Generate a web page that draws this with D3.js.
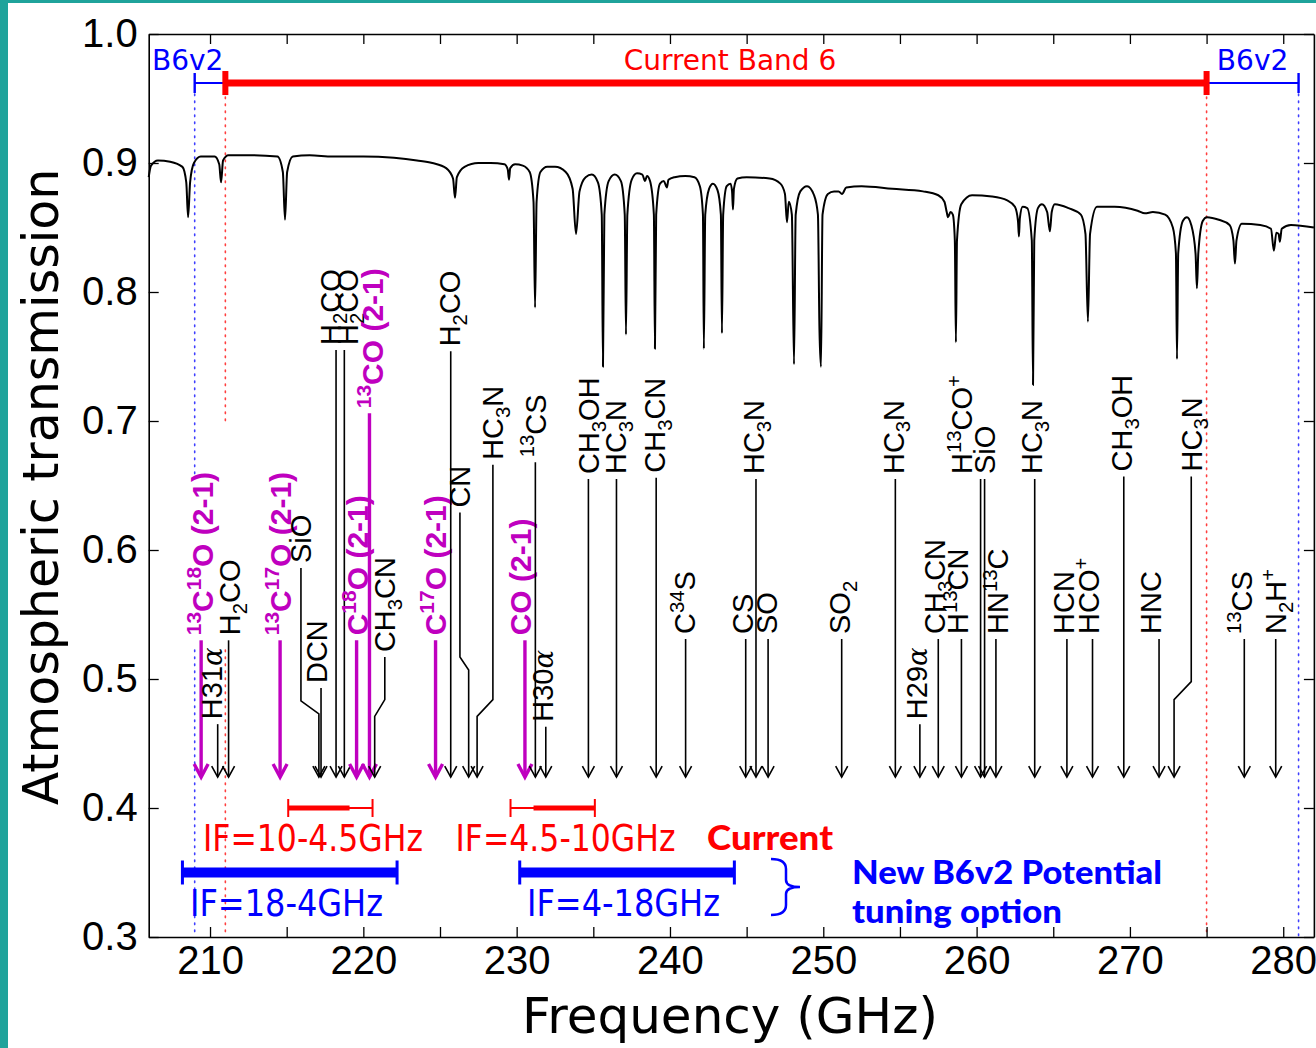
<!DOCTYPE html>
<html>
<head>
<meta charset="utf-8">
<script src="https://cdn.jsdelivr.net/npm/d3@7"></script>
<style>
  html, body { margin: 0; padding: 0; background: #fff; }
  svg { display: block; }
</style>
</head>
<body>
<svg id="chart" width="1316" height="1048"></svg>
<script>
// ---------- axes ----------
const freqDomain = [206, 282];
const transDomain = [0.3, 1.0];
const xTickMarks = [210, 215, 220, 225, 230, 235, 240, 245, 250, 255, 260, 265, 270, 275, 280];
const xTickLabels = [210, 220, 230, 240, 250, 260, 270, 280];
const yTickLabels = [0.3, 0.4, 0.5, 0.6, 0.7, 0.8, 0.9, 1.0];

// ---------- atmospheric transmission model (GHz, transmission) ----------
const transmission = [
  [206.0, 0.889], [206.15, 0.898], [206.6, 0.902], [207.4, 0.901], [208.2, 0.897],
  [208.45, 0.885], [208.57, 0.858], [208.7, 0.885], [208.95, 0.900], [209.4, 0.905],
  [210.3, 0.905], [210.6, 0.899], [210.72, 0.885], [210.85, 0.902], [211.2, 0.906],
  [212.5, 0.906], [214.4, 0.905], [214.75, 0.893], [214.89, 0.856], [215.03, 0.893],
  [215.4, 0.905], [216.5, 0.906], [218.0, 0.905], [220.0, 0.905], [222.0, 0.904],
  [223.5, 0.902], [224.5, 0.900], [225.4, 0.896], [225.85, 0.888], [225.98, 0.873],
  [226.1, 0.889], [226.6, 0.897], [227.5, 0.900], [228.3, 0.900], [229.2, 0.899],
  [229.42, 0.895], [229.5, 0.887], [229.58, 0.896], [229.9, 0.899], [230.4, 0.898],
  [230.85, 0.893], [231.1, 0.870], [231.2, 0.788], [231.3, 0.870], [231.55, 0.893],
  [232.0, 0.897], [232.5, 0.897], [233.2, 0.893], [233.65, 0.880], [233.87, 0.845],
  [234.1, 0.878], [234.5, 0.889], [234.9, 0.891], [235.3, 0.885], [235.55, 0.860],
  [235.63, 0.742], [235.72, 0.860], [236.0, 0.886], [236.4, 0.891], [236.8, 0.886],
  [237.05, 0.860], [237.13, 0.767], [237.22, 0.860], [237.5, 0.887], [237.85, 0.892],
  [238.2, 0.891], [238.37, 0.886], [238.5, 0.890], [238.7, 0.886], [238.95, 0.860],
  [239.02, 0.756], [239.1, 0.860], [239.35, 0.884], [239.6, 0.886], [239.75, 0.882],
  [239.8, 0.881], [239.9, 0.887], [240.3, 0.889], [241.0, 0.890], [241.6, 0.889],
  [241.95, 0.882], [242.15, 0.860], [242.21, 0.756], [242.3, 0.860], [242.55, 0.880],
  [242.8, 0.884], [243.1, 0.879], [243.32, 0.860], [243.39, 0.768], [243.47, 0.860],
  [243.7, 0.882], [243.95, 0.884], [244.05, 0.878], [244.11, 0.864], [244.17, 0.880],
  [244.4, 0.888], [245.0, 0.889], [246.5, 0.888], [247.2, 0.884], [247.5, 0.876],
  [247.63, 0.854], [247.75, 0.870], [247.95, 0.860], [248.09, 0.744], [248.2, 0.860],
  [248.5, 0.878], [248.94, 0.882], [249.4, 0.875], [249.65, 0.860], [249.75, 0.771],
  [249.85, 0.742], [249.95, 0.860], [250.3, 0.876], [250.7, 0.878], [251.0, 0.878],
  [251.22, 0.876], [251.5, 0.881], [252.5, 0.882], [254.5, 0.880], [256.5, 0.878],
  [257.5, 0.875], [257.9, 0.870], [258.05, 0.862], [258.13, 0.858], [258.3, 0.862],
  [258.45, 0.860], [258.58, 0.840], [258.65, 0.761], [258.72, 0.840], [259.0, 0.868],
  [259.7, 0.875], [261.0, 0.874], [262.0, 0.871], [262.5, 0.866], [262.7, 0.855],
  [262.76, 0.843], [262.82, 0.857], [263.0, 0.866], [263.3, 0.865], [263.6, 0.840],
  [263.68, 0.728], [263.76, 0.840], [264.0, 0.865], [264.26, 0.868], [264.6, 0.862],
  [264.78, 0.847], [264.9, 0.862], [265.1, 0.868], [266.0, 0.865], [266.8, 0.860],
  [267.1, 0.845], [267.26, 0.777], [267.4, 0.845], [267.85, 0.866], [269.0, 0.866],
  [270.5, 0.863], [270.98, 0.861], [271.5, 0.862], [272.3, 0.860], [272.8, 0.850],
  [273.0, 0.830], [273.07, 0.748], [273.15, 0.830], [273.45, 0.855], [273.72, 0.858],
  [274.0, 0.852], [274.28, 0.830], [274.37, 0.803], [274.46, 0.830], [274.75, 0.855],
  [275.02, 0.858], [275.8, 0.856], [276.5, 0.852], [276.75, 0.840], [276.85, 0.822],
  [276.95, 0.840], [277.3, 0.853], [278.5, 0.852], [279.2, 0.849], [279.39, 0.832],
  [279.55, 0.846], [279.7, 0.845], [279.78, 0.839], [279.9, 0.849], [280.5, 0.852],
  [282.0, 0.850]
];

// ---------- spectral lines of interest ----------
const speciesLabels = [
  "^{13}C^{18}O (2-1)", "H31*α*", "H_{2}CO", "^{13}C^{17}O (2-1)", "SiO", "DCN",
  "H_{2}CO", "H_{2}CO", "C^{18}O (2-1)", "^{13}CO (2-1)", "CH_{3}CN", "C^{17}O (2-1)",
  "H_{2}CO", "CN", "HC_{3}N", "CO (2-1)", "^{13}CS", "H30*α*", "CH_{3}OH", "HC_{3}N",
  "CH_{3}CN", "C^{34}S", "CS", "HC_{3}N", "SO", "SO_{2}", "HC_{3}N", "H29*α*",
  "CH_{3}CN", "H^{13}CN", "H^{13}CO^{+}", "SiO", "HN^{13}C", "HC_{3}N", "HCN",
  "HCO^{+}", "CH_{3}OH", "HNC", "HC_{3}N", "^{13}CS", "N_{2}H^{+}"
];
const speciesFreq = [
  209.42, 210.50, 211.21, 214.57, 217.10, 217.24, 218.22, 218.76, 219.56, 220.40,
  220.74, 224.71, 225.70, 226.87, 227.42, 230.54, 231.22, 231.90, 234.68, 236.51,
  239.10, 241.02, 244.94, 245.61, 246.40, 251.20, 254.70, 256.30, 257.50, 259.01,
  260.26, 260.52, 261.26, 263.79, 265.89, 267.56, 269.60, 271.90, 272.88, 277.46,
  279.51
];
// CO isotopologue transitions are highlighted
const isCOLine = [
  1, 0, 0, 1, 0, 0, 0, 0, 1, 1, 0, 1, 0, 0, 0, 1, 0, 0, 0, 0,
  0, 0, 0, 0, 0, 0, 0, 0, 0, 0, 0, 0, 0, 0, 0, 0, 0, 0, 0, 0, 0
];
// label anchor: frequency of the label centre and transmission where its leader starts
const labelFreq = [
  209.48, 210.13, 211.30, 214.57, 215.93, 216.98, 217.83, 218.94, 219.59, 220.57,
  221.40, 224.67, 225.65, 226.30, 228.45, 230.22, 231.20, 231.72, 234.72, 236.48,
  239.02, 240.98, 244.76, 245.48, 246.33, 251.09, 254.55, 256.11, 257.28, 258.78,
  259.04, 260.54, 261.39, 263.61, 265.70, 267.33, 269.48, 271.37, 274.00, 277.31,
  279.52
];
const labelBase = [
  0.530, 0.465, 0.530, 0.530, 0.586, 0.493, 0.755, 0.755, 0.530, 0.706,
  0.517, 0.530, 0.754, 0.629, 0.666, 0.530, 0.668, 0.463, 0.655, 0.655,
  0.656, 0.531, 0.531, 0.655, 0.531, 0.531, 0.655, 0.465, 0.531, 0.531,
  0.655, 0.655, 0.531, 0.655, 0.531, 0.531, 0.657, 0.531, 0.657, 0.531,
  0.531
];
// leaders that bend: index -> [transmission where bend starts, where it ends]
const leaderBends = { 4: [0.483, 0.473], 10: [0.484, 0.471], 13: [0.517, 0.507], 14: [0.484, 0.471], 38: [0.498, 0.484] };
const arrowTip = 0.424;

// ---------- receiver bands ----------
const currentBand = [211, 275];
const b6v2Band = [209, 281];
const currentIF = [[215.1, 220.6], [229.6, 235.1]];
const currentIFCore = [[215.1, 219.1], [231.1, 235.1]];
const currentIFLabels = ["IF=10-4.5GHz", "IF=4.5-10GHz"];
const newIF = [[208.2, 222.2], [230.2, 244.2]];
const newIFLabels = ["IF=18-4GHz", "IF=4-18GHz"];

// ---------- drawing ----------
const RED = "#ff0000", BLUE = "#0000ff", MAG = "#bf00bf";
const svg = d3.select("#chart");
const x = d3.scaleLinear().domain(freqDomain).range([148.7, 1313.9]);
const y = d3.scaleLinear().domain(transDomain).range([937, 34]);

// frame decoration on the slide
svg.append("rect").attr("x", 0).attr("y", 0).attr("width", 8).attr("height", 1048).attr("fill", "#1fa39b");
svg.append("rect").attr("x", 0).attr("y", 0).attr("width", 1316).attr("height", 3).attr("fill", "#1fa39b");

const plot = svg.append("g");

// band edges (dotted); segments hidden behind labels are skipped
function vDotted(f, y0, y1, color) {
  plot.append("line").attr("x1", x(f)).attr("x2", x(f)).attr("y1", y0).attr("y2", y1)
    .attr("stroke", color).attr("stroke-width", 1.6).attr("stroke-dasharray", "1.6,5.4")
    .attr("stroke-linecap", "round").attr("opacity", 0.75);
}
vDotted(b6v2Band[0], 94, 476, BLUE);
vDotted(b6v2Band[0], 650, 937, BLUE);
vDotted(b6v2Band[1], 94, 937, BLUE);
vDotted(currentBand[0], 97, 423, RED);
vDotted(currentBand[0], 650, 937, RED);
vDotted(currentBand[1], 97, 937, RED);

// transmission curve
plot.append("path").datum(transmission)
  .attr("fill", "none").attr("stroke", "#000").attr("stroke-width", 2)
  .attr("stroke-linejoin", "round")
  .attr("d", d3.line().x(d => x(d[0])).y(d => y(d[1])).curve(d3.curveMonotoneX));

// rich text helper: ^{sup}, _{sub}, *italic*
function addRich(textSel, str, fs) {
  const re = /\^\{([^}]*)\}|_\{([^}]*)\}|\*([^*]*)\*|([^\^_*]+)/g;
  let m, shift = 0;
  while ((m = re.exec(str)) !== null) {
    let txt, target = 0, size = fs, ital = false;
    if (m[1] !== undefined) { txt = m[1]; target = -0.38 * fs; size = 0.7 * fs; }
    else if (m[2] !== undefined) { txt = m[2]; target = 0.22 * fs; size = 0.7 * fs; }
    else if (m[3] !== undefined) { txt = m[3]; ital = true; size = 0.95 * fs; }
    else { txt = m[4]; }
    const t = textSel.append("tspan").attr("dy", target - shift).attr("font-size", size).text(txt);
    if (ital) t.attr("font-family", "DejaVu Serif").attr("font-style", "italic");
    shift = target;
  }
}

// spectral line markers
const lines = speciesLabels.map((label, i) => ({
  label, f: speciesFreq[i], co: !!isCOLine[i], lf: labelFreq[i], base: labelBase[i], bend: leaderBends[i]
}));
const tipY = y(arrowTip);
const markers = plot.append("g");
lines.forEach(d => {
  const color = d.co ? MAG : "#000";
  const lw = d.co ? 3.4 : 1.6;
  let pts;
  if (d.bend) {
    pts = [[x(d.lf), y(d.base)], [x(d.lf), y(d.bend[0])], [x(d.f), y(d.bend[1])], [x(d.f), tipY]];
  } else {
    pts = [[x(d.f), y(d.base)], [x(d.f), tipY]];
  }
  markers.append("path").attr("d", d3.line()(pts)).attr("fill", "none")
    .attr("stroke", color).attr("stroke-width", lw);
  const hw = d.co ? 7 : 6, hl = d.co ? 13 : 11;
  markers.append("path")
    .attr("d", d3.line()([[x(d.f) - hw, tipY - hl], [x(d.f), tipY], [x(d.f) + hw, tipY - hl]]))
    .attr("fill", "none").attr("stroke", color).attr("stroke-width", lw)
    .attr("stroke-linejoin", "miter");

  const fs = d.co ? 30 : 29;
  const t = markers.append("text")
    .attr("transform", `translate(${x(d.lf)},${y(d.base) - 5}) rotate(-90)`)
    .attr("y", 0.36 * fs)
    .attr("font-family", "Liberation Sans, Arial, sans-serif")
    .attr("font-weight", d.co ? "bold" : "normal")
    .attr("font-size", fs)
    .attr("fill", color);
  addRich(t, d.label, fs);
});

// receiver band bars at the top
const topY = y(0.962);
function capBar(f, yc, h, w, color) {
  plot.append("rect").attr("x", x(f) - w / 2).attr("y", yc - h / 2).attr("width", w).attr("height", h).attr("fill", color);
}
plot.append("line").attr("x1", x(b6v2Band[0])).attr("x2", x(currentBand[0])).attr("y1", topY).attr("y2", topY)
  .attr("stroke", BLUE).attr("stroke-width", 2);
plot.append("line").attr("x1", x(currentBand[1])).attr("x2", x(b6v2Band[1])).attr("y1", topY).attr("y2", topY)
  .attr("stroke", BLUE).attr("stroke-width", 2);
capBar(b6v2Band[0], topY, 20, 2.4, BLUE);
capBar(b6v2Band[1], topY, 20, 2.4, BLUE);
plot.append("line").attr("x1", x(currentBand[0])).attr("x2", x(currentBand[1])).attr("y1", topY).attr("y2", topY)
  .attr("stroke", RED).attr("stroke-width", 7);
capBar(currentBand[0], topY, 24, 6, RED);
capBar(currentBand[1], topY, 24, 6, RED);

const labelFont = "DejaVu Sans, sans-serif";
plot.append("text").attr("x", x(b6v2Band[0]) - 7).attr("y", topY - 13).attr("text-anchor", "middle")
  .attr("font-family", labelFont).attr("font-size", 28).attr("fill", BLUE).text("B6v2");
plot.append("text").attr("x", x((b6v2Band[1] + currentBand[1]) / 2)).attr("y", topY - 13).attr("text-anchor", "middle")
  .attr("font-family", labelFont).attr("font-size", 28).attr("fill", BLUE).text("B6v2");
plot.append("text").attr("x", 730).attr("y", topY - 13).attr("text-anchor", "middle")
  .attr("font-family", labelFont).attr("font-size", 28).attr("fill", RED).text("Current Band 6");

// IF coverage, current receiver
const ifY = y(0.400);
const curTextX = [313, 565.5];
currentIF.forEach((r, i) => {
  plot.append("line").attr("x1", x(r[0])).attr("x2", x(r[1])).attr("y1", ifY).attr("y2", ifY)
    .attr("stroke", RED).attr("stroke-width", 2);
  plot.append("line").attr("x1", x(currentIFCore[i][0])).attr("x2", x(currentIFCore[i][1])).attr("y1", ifY).attr("y2", ifY)
    .attr("stroke", RED).attr("stroke-width", 5);
  capBar(r[0], ifY, 18, 2, RED);
  capBar(r[1], ifY, 18, 2, RED);
  plot.append("text").attr("x", curTextX[i]).attr("y", ifY + 43)
    .attr("text-anchor", "middle").attr("font-family", labelFont).attr("font-size", 37)
    .attr("textLength", 220).attr("lengthAdjust", "spacingAndGlyphs")
    .attr("fill", RED).text(currentIFLabels[i]);
});
plot.append("text").attr("x", 770).attr("y", ifY + 42).attr("text-anchor", "middle")
  .attr("font-family", "Lato, sans-serif").attr("font-weight", "900").attr("font-size", 35)
  .attr("textLength", 126).attr("lengthAdjust", "spacingAndGlyphs")
  .attr("fill", RED).text("Current");

// IF coverage, proposed receiver
const nifY = y(0.350);
const newTextX = [286.5, 623.5];
newIF.forEach((r, i) => {
  plot.append("line").attr("x1", x(r[0])).attr("x2", x(r[1])).attr("y1", nifY).attr("y2", nifY)
    .attr("stroke", BLUE).attr("stroke-width", 10);
  capBar(r[0], nifY, 24, 3, BLUE);
  capBar(r[1], nifY, 24, 3, BLUE);
  plot.append("text").attr("x", newTextX[i]).attr("y", nifY + 43)
    .attr("text-anchor", "middle").attr("font-family", labelFont).attr("font-size", 37)
    .attr("textLength", 193).attr("lengthAdjust", "spacingAndGlyphs")
    .attr("fill", BLUE).text(newIFLabels[i]);
});
plot.append("path")
  .attr("d", "M771,859 Q786,859 786,869 L786,880 Q786,887 800,887 Q786,887 786,894 L786,905 Q786,915 771,915")
  .attr("fill", "none").attr("stroke", BLUE).attr("stroke-width", 2.5);
plot.append("text").attr("x", 852).attr("y", 884)
  .attr("font-family", "Lato, sans-serif").attr("font-weight", "900").attr("font-size", 33)
  .attr("textLength", 310).attr("lengthAdjust", "spacingAndGlyphs")
  .attr("fill", BLUE).text("New B6v2 Potential");
plot.append("text").attr("x", 852).attr("y", 923)
  .attr("font-family", "Lato, sans-serif").attr("font-weight", "900").attr("font-size", 33)
  .attr("textLength", 210).attr("lengthAdjust", "spacingAndGlyphs")
  .attr("fill", BLUE).text("tuning option");

// axes (ticks inside on all four sides)
const axes = svg.append("g").attr("font-family", labelFont);
const axB = axes.append("g").attr("transform", "translate(0,937)")
  .call(d3.axisBottom(x).tickValues(xTickMarks).tickSizeInner(-10).tickSizeOuter(0).tickPadding(9)
    .tickFormat(d => xTickLabels.includes(d) ? d : ""));
const axT = axes.append("g").attr("transform", "translate(0,34)")
  .call(d3.axisTop(x).tickValues(xTickMarks).tickSizeInner(-10).tickSizeOuter(0).tickFormat(""));
const axL = axes.append("g").attr("transform", "translate(148.7,0)")
  .call(d3.axisLeft(y).tickValues(yTickLabels).tickSizeInner(-10).tickSizeOuter(0).tickPadding(11)
    .tickFormat(d3.format(".1f")));
const axR = axes.append("g").attr("transform", "translate(1313.9,0)")
  .call(d3.axisRight(y).tickValues(yTickLabels).tickSizeInner(-10).tickSizeOuter(0).tickFormat(""));
[axB, axT, axL, axR].forEach(a => {
  a.selectAll(".domain").attr("stroke", "#000").attr("stroke-width", 1.6);
  a.selectAll(".tick line").attr("stroke", "#000").attr("stroke-width", 1.3);
  a.selectAll("text").attr("fill", "#000").attr("font-size", 40);
});

axes.append("text").attr("transform", "translate(58,487) rotate(-90)").attr("text-anchor", "middle")
  .attr("font-size", 49).attr("fill", "#000").text("Atmospheric transmission");
axes.append("text").attr("x", 730).attr("y", 1033).attr("text-anchor", "middle")
  .attr("font-size", 50).attr("fill", "#000").text("Frequency (GHz)");
</script>
</body>
</html>
